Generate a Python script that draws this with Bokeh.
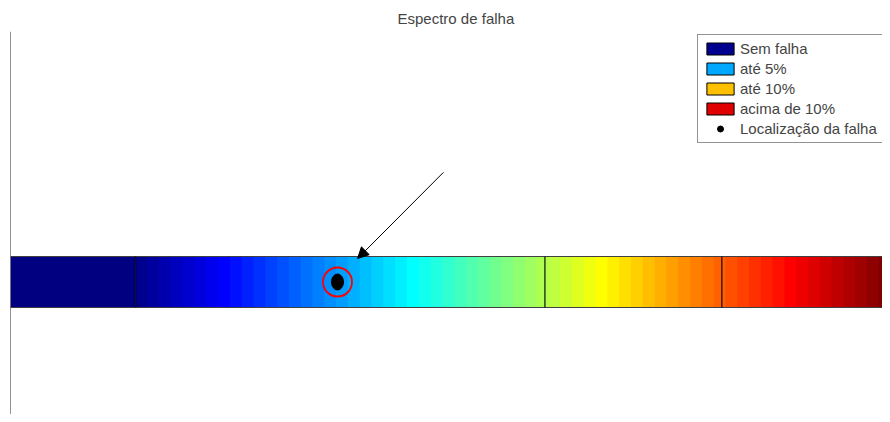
import math
from bokeh.plotting import figure
from bokeh.models import Legend, LegendItem, Span, Arrow, NormalHead, ColumnDataSource, Range1d
from bokeh.embed import file_html
from bokeh.resources import INLINE

# ---- data ----
categories = ["Sem falha", "até 5%", "até 10%", "acima de 10%"]
legend_colors = ["#00008f", "#00a8ff", "#ffc000", "#e00000"]
marker_label = "Localização da falha"
segment_edges = [-10.6, 0.0, 34.7, 49.7, 64.0]   # boundaries along the bar
n_cells = 64                                        # colormap cells in the gradient
fault_x = [17.12]
fault_y = [0.0]
arrow_from = (26.1, 2.15)
arrow_to = (18.82, 0.46)
bar_bottom, bar_top = -0.5, 0.5


def jet(m):
    n = math.ceil(m / 4)
    u = [i / n for i in range(1, n + 1)] + [1.0] * (n - 1) + [i / n for i in range(n, 0, -1)]
    g = [math.ceil(n / 2) - (1 if m % 4 == 1 else 0) + i for i in range(1, len(u) + 1)]
    r = [x + n for x in g]
    b = [x - n for x in g]
    g = [x for x in g if x <= m]
    r = [x for x in r if x <= m]
    b = [x for x in b if x >= 1]
    J = [[0.0, 0.0, 0.0] for _ in range(m)]
    for k, idx in enumerate(r):
        J[idx - 1][0] = u[k]
    for k, idx in enumerate(g):
        J[idx - 1][1] = u[k]
    off = len(u) - len(b)
    for k, idx in enumerate(b):
        J[idx - 1][2] = u[off + k]
    return ["#%02x%02x%02x" % tuple(int(round(c * 255)) for c in row) for row in J]


cmap = jet(n_cells)

W, H = 882, 414
LEFT, TOP = 10, 31
px_per_x = (890 - 135) / 64.0
px_per_y = 51.0
x_end = segment_edges[0] + (W - LEFT) / px_per_x
y_end = bar_top + (256 - TOP) / px_per_y
y_start = bar_bottom - (H - 307) / px_per_y

p = figure(width=W, height=H, output_backend="svg", toolbar_location=None,
           x_range=Range1d(segment_edges[0], x_end),
           y_range=Range1d(y_start, y_end),
           min_border_left=LEFT, min_border_right=0, min_border_bottom=0, min_border_top=TOP)
p.axis.visible = False
p.grid.visible = False
p.outline_line_color = None
p.background_fill_color = "white"

p.title.text = "Espectro de falha"
p.title.text_font = "Liberation Sans"
p.title.text_font_size = "15px"
p.title.text_font_style = "normal"
p.title.align = "left"
p.title.offset = 387

# left axis line
p.add_layout(Span(location=segment_edges[0], dimension="height", line_color="#262626", line_width=1))

# "Sem falha" solid part
p.quad(left=[segment_edges[0]], right=[segment_edges[1]], bottom=[bar_bottom], top=[bar_top],
       fill_color="#000080", line_color=None)

# gradient cells
cells = ColumnDataSource(dict(left=[segment_edges[1] + i for i in range(n_cells)],
                              right=[segment_edges[1] + i + 1.15 for i in range(n_cells)],
                              color=cmap))
p.quad(left="left", right="right", bottom=bar_bottom, top=bar_top, fill_color="color",
       line_color=None, source=cells)

# bar outline top/bottom
p.segment(x0=[segment_edges[0]] * 2, x1=[segment_edges[-1]] * 2, y0=[bar_top, bar_bottom],
          y1=[bar_top, bar_bottom], line_color="#404040", line_width=1.2)

# dividers
div = segment_edges[1:-1]
p.segment(x0=div, x1=div, y0=[bar_bottom] * len(div), y1=[bar_top] * len(div),
          line_color="black", line_alpha=0.75, line_width=1.5)

# fault location
p.ellipse(x=fault_x, y=fault_y, width=12, height=16, width_units="screen", height_units="screen",
          fill_color="black", line_color="black")
p.scatter(x=fault_x, y=fault_y, size=29, marker="circle", fill_color=None, line_color="#ff0000",
          line_width=1.8)

p.add_layout(Arrow(end=NormalHead(size=11, fill_color="black", line_color="black", line_width=1),
                   x_start=arrow_from[0], y_start=arrow_from[1], x_end=arrow_to[0], y_end=arrow_to[1],
                   line_color="black", line_width=1))

# legend dummy renderers (outside range)
items = []
for name, col in zip(categories, legend_colors):
    r = p.quad(left=[-1000], right=[-999], bottom=[-1000], top=[-999], fill_color=col,
               line_color="black", line_width=1)
    items.append(LegendItem(label=name, renderers=[r]))
rm = p.scatter(x=[-1000], y=[-1000], size=5, marker="circle", fill_color="black", line_color="black")
items.append(LegendItem(label=marker_label, renderers=[rm]))

legend = Legend(items=items, location=(687, 271), glyph_width=34, glyph_height=15, label_height=16,
                spacing=3, padding=5, margin=0, label_standoff=3,
                label_text_font="Liberation Sans", label_text_font_size="15px",
                border_line_color="#262626", border_line_width=1, background_fill_alpha=1.0)
p.add_layout(legend)

open("out.html", "w").write(file_html(p, INLINE))
